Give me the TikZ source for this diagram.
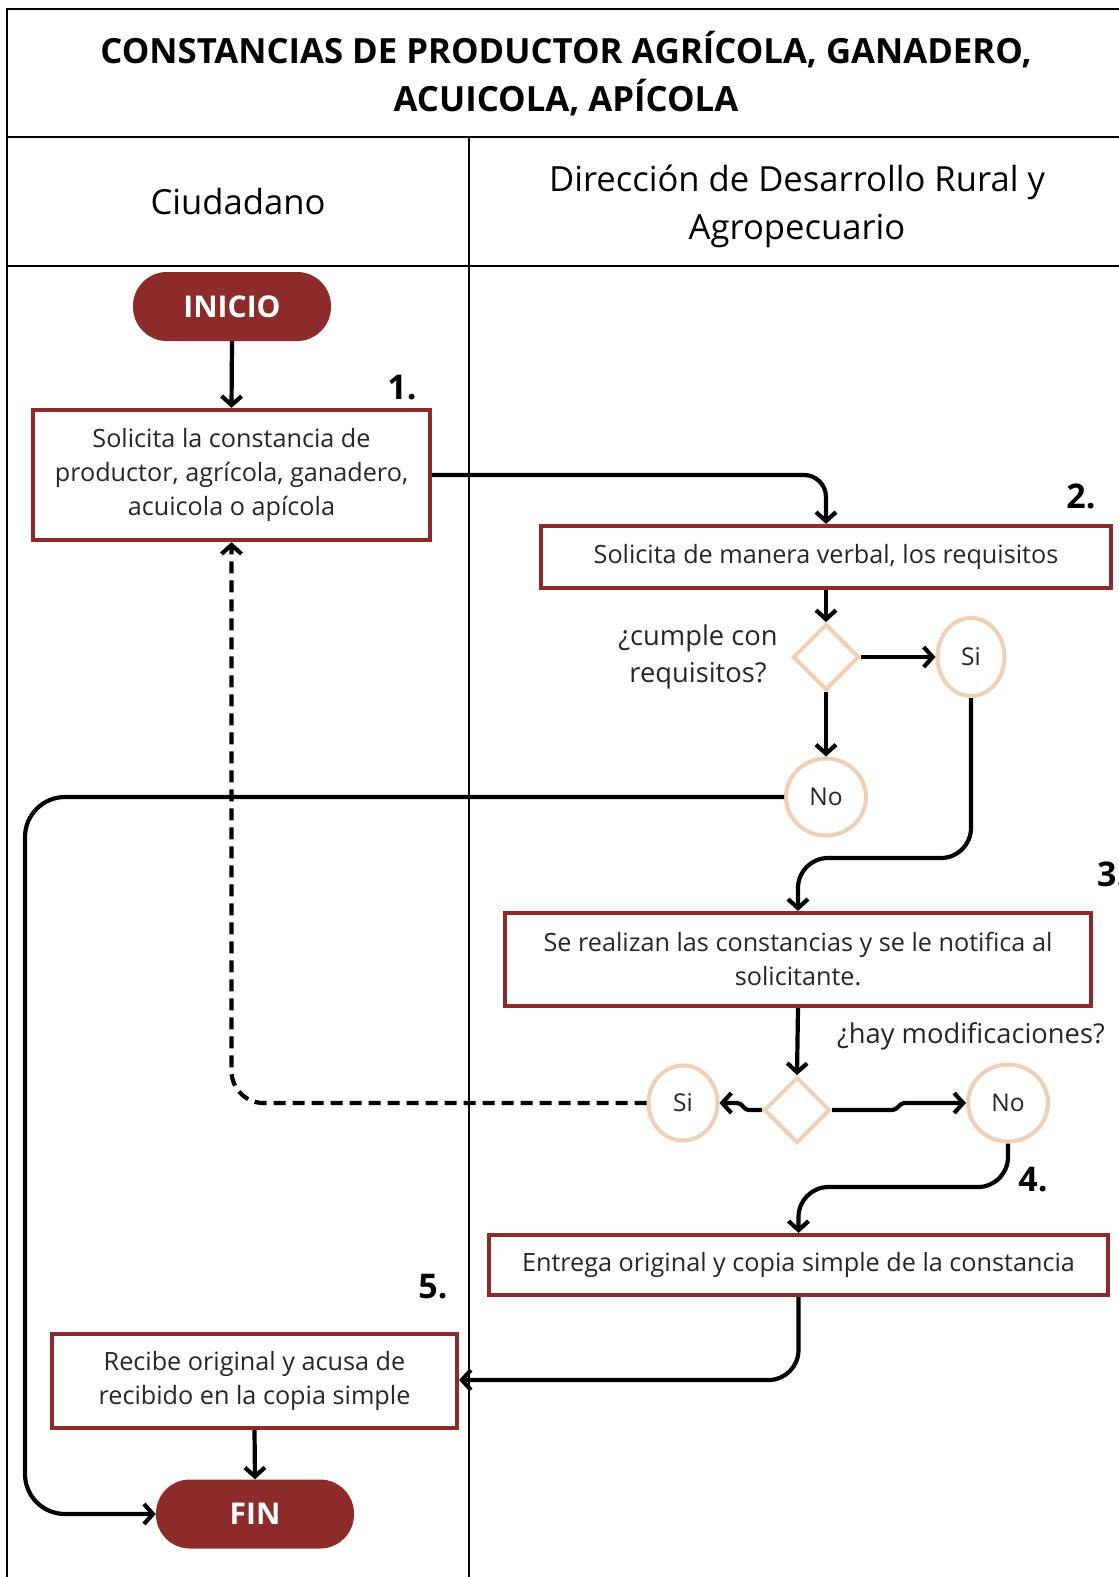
\documentclass[tikz,border=0pt]{standalone}
\usepackage{fontspec}
\setmainfont{Open Sans}
\usetikzlibrary{shapes.geometric,arrows.meta}
\definecolor{wine}{HTML}{8D2B2B}
\definecolor{peach}{HTML}{EFCFB5}
\begin{document}
\begin{tikzpicture}[x=1pt,y=-1pt,
  box/.style={draw=wine, line width=4.2pt, fill=white, inner sep=0pt, align=center,
    font=\fontsize{25.2}{34}\selectfont, text=black!85},
  term/.style={fill=wine, rounded corners=34pt, minimum width=198pt, minimum height=69pt,
    inner sep=0pt, text=white, font=\bfseries\fontsize{30}{36}\selectfont},
  dec/.style={diamond, draw=peach, line width=4pt, minimum width=66pt, minimum height=66pt, inner sep=0pt, aspect=1},
  circ/.style={ellipse, draw=peach, line width=4pt, inner sep=0pt, fill=white,
    font=\fontsize{24.5}{28}\selectfont, text=black!85},
  conn/.style={line width=4.2pt, -{Straight Barb[length=9pt,width=20pt]}},
  num/.style={font=\bfseries\fontsize{34}{40}\selectfont, inner sep=0pt},
  lane/.style={line width=2.8pt},
  qtext/.style={font=\fontsize{27.3}{37}\selectfont, align=center, text=black!85, inner sep=0pt}
]
\useasboundingbox (0,0) rectangle (1119,1577);
\clip (0,0) rectangle (1119,1577);
\fill[white] (0,0) rectangle (1119,1577);

% frame
\draw[lane] (7,9) rectangle (1140,1600);
\draw[lane] (7,137) -- (1140,137);
\draw[lane] (7,266) -- (1140,266);
\draw[lane] (469,137) -- (469,1600);

% headers
\node[align=center, font=\bfseries\fontsize{34.7}{48}\selectfont, inner sep=0pt] (title) at (566,74)
  {CONSTANCIAS DE PRODUCTOR AGRÍCOLA, GANADERO,\\ACUICOLA, APÍCOLA};
\node[font=\fontsize{34.6}{48}\selectfont, inner sep=0pt] (lane1) at (238,202) {Ciudadano};
\node[align=center, font=\fontsize{34.6}{48}\selectfont, inner sep=0pt] (lane2) at (797,206)
  {Dirección de Desarrollo Rural y\\Agropecuario};

% nodes
\node[term] (inicio) at (232,306.5) {INICIO};
\node[box, minimum width=397pt, minimum height=130pt] (box1) at (231.5,475)
  {Solicita la constancia de\\productor, agrícola, ganadero,\\acuicola o apícola};
\node[box, minimum width=570pt, minimum height=62pt] (box2) at (826,557)
  {Solicita de manera verbal, los requisitos};
\node[dec] (d1) at (826,657) {};
\node[qtext] (q1) at (698,657) {¿cumple con\\requisitos?};
\node[circ, minimum width=67pt, minimum height=78pt] (si1) at (971,657) {Si};
\node[circ, minimum width=80pt, minimum height=77pt] (no1) at (826,797) {No};
\node[box, minimum width=586pt, minimum height=93pt] (box3) at (798,959.5)
  {Se realizan las constancias y se le notifica al\\solicitante.};
\node[dec] (d2) at (797,1110) {};
\node[qtext] (q2) at (971,1036) {¿hay modificaciones?};
\node[circ, minimum width=69pt, minimum height=75pt] (si2) at (683,1103) {Si};
\node[circ, minimum width=80pt, minimum height=77pt] (no2) at (1008,1103) {No};
\node[box, minimum width=619pt, minimum height=60pt] (box4) at (798.5,1265)
  {Entrega original y copia simple de la constancia};
\node[box, minimum width=405pt, minimum height=94pt] (box5) at (254.5,1381)
  {Recibe original y acusa de\\recibido en la copia simple};
\node[term] (fin) at (255,1514) {FIN};

% step numbers
\node[num] (n1) at (402,388) {1.};
\node[num] (n2) at (1081,496) {2.};
\node[num, anchor=west] (n3) at (1097,874) {3.};
\node[num] (n4) at (1033,1180) {4.};
\node[num] (n5) at (433,1287) {5.};

% connectors
\coordinate (lft) at (25,0);
\coordinate (rowA) at (0,858);
\coordinate (rowB) at (0,1187);
\coordinate (rowC) at (0,1380);

\draw[conn] (inicio.south) -- (box1.north);
\draw[conn, rounded corners=22pt] (box1.east) -| (box2.north);
\draw[conn] (box2.south) -- (d1.north);
\draw[conn] (d1.east) -- (si1.west);
\draw[conn] (d1.south) -- (no1.north);
\draw[conn, rounded corners=40pt] (no1.west) -- (no1.west -| lft) -- (fin.west -| lft) -- (fin.west);
\draw[conn, rounded corners=30pt] (si1.south) -- (si1.south |- rowA) -- (box3.north |- rowA) -- (box3.north);
\draw[conn] (box3.south) -- (d2.north);
\draw[conn, rounded corners=3pt] (d2.east) -- ([xshift=63pt]d2.east) -- ([xshift=70pt,yshift=7pt]d2.east) -- (no2.west);
\draw[conn, rounded corners=3pt] (d2.west) -- ([xshift=-16pt]d2.west) -- ([xshift=-22pt,yshift=7pt]d2.west) -- (si2.east);
\draw[line width=4.2pt, dash pattern=on 12pt off 7pt, rounded corners=32pt, -{Straight Barb[length=9pt,width=20pt]}]
  (si2.west) -- (box1.south |- si2.west) -- (box1.south);
\draw[conn, rounded corners=30pt] (no2.south) -- (no2.south |- rowB) -- (box4.north |- rowB) -- (box4.north);
\draw[conn, rounded corners=30pt] (box4.south) -- (box4.south |- rowC) -- (box5.east |- rowC);
\draw[conn] (box5.south) -- (fin.north);
\end{tikzpicture}
\end{document}
